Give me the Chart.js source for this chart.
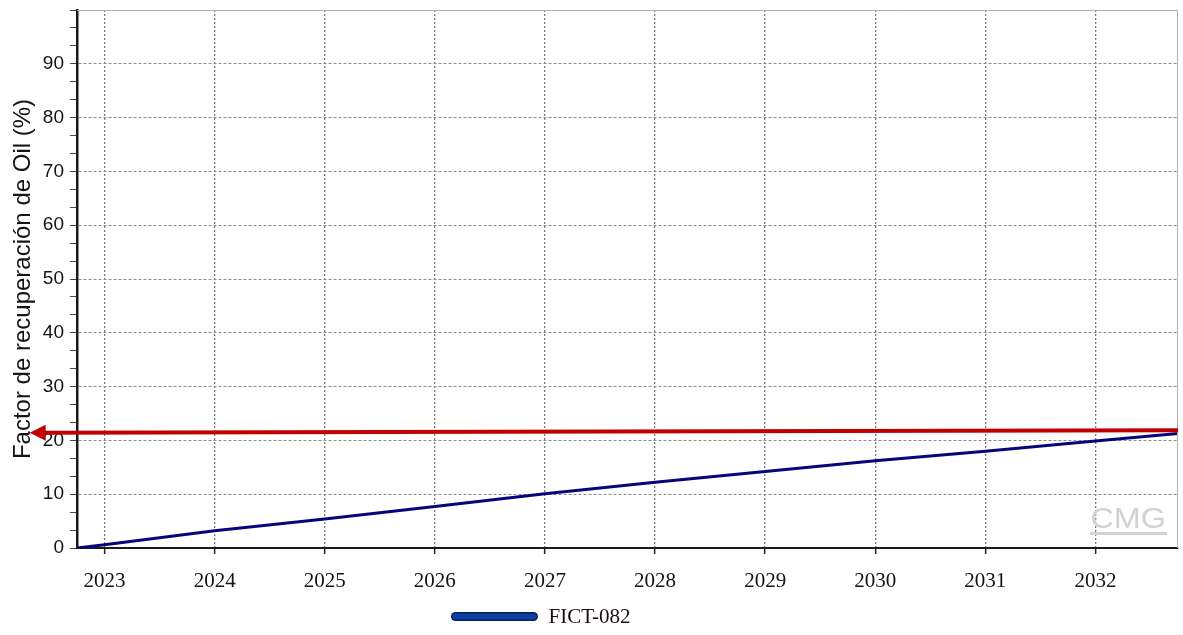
<!DOCTYPE html>
<html>
<head>
<meta charset="utf-8">
<script src="https://cdn.jsdelivr.net/npm/chart.js@4"></script>
<style>
  html, body { margin: 0; padding: 0; background: #fff; }
  #wrap { width: 1183px; height: 635px; }
</style>
</head>
<body>
<div id="wrap"><canvas id="c" width="1183" height="635"></canvas></div>
<script>
// Time axis in decimal years, recovery factor in percent
const years     = [2022.75, 2023, 2024, 2025, 2026, 2027, 2028, 2029, 2030, 2031, 2032, 2032.75];
const recovery  = [0, 0.6, 3.2, 5.4, 7.7, 10.1, 12.2, 14.2, 16.2, 18.0, 19.9, 21.3];
const yearTicks = [2023, 2024, 2025, 2026, 2027, 2028, 2029, 2030, 2031, 2032];
const xRange    = [2022.75, 2032.75];
const yRange    = [0, 100];
const seriesName = 'FICT-082';
const yTitle = 'Factor de recuperación de Oil (%)';
// Reference arrow pointing at the final recovery factor: [year, %]
const arrowFrom = [2032.75, 21.9];
const arrowTo   = [2022.32, 21.4];

const gridGray = '#8c8c8c';

const extras = {
  id: 'extras',
  afterDatasetsDraw(chart) {
    const { ctx, chartArea: a, scales: { x, y } } = chart;
    ctx.save();
    // frame top/right
    ctx.strokeStyle = '#b0b0b0';
    ctx.lineWidth = 1;
    ctx.beginPath();
    ctx.moveTo(a.left, a.top + 0.5);
    ctx.lineTo(a.right - 0.5, a.top + 0.5);
    ctx.lineTo(a.right - 0.5, a.bottom);
    ctx.stroke();

    // watermark
    ctx.fillStyle = '#d2d2d2';
    ctx.font = '30px "Liberation Sans", Arial, sans-serif';
    ctx.textAlign = 'right';
    ctx.textBaseline = 'alphabetic';
    ctx.save();
    ctx.translate(a.right - 12, a.bottom - 20);
    ctx.scale(1.08, 1);
    ctx.fillText('CMG', 0, 0);
    ctx.restore();
    ctx.fillRect(a.right - 88, a.bottom - 16, 77, 3);

    // red arrow
    const x1 = x.getPixelForValue(arrowFrom[0]), y1 = y.getPixelForValue(arrowFrom[1]);
    const x2 = x.getPixelForValue(arrowTo[0]),   y2 = y.getPixelForValue(arrowTo[1]);
    ctx.strokeStyle = '#c00000';
    ctx.fillStyle = '#c00000';
    ctx.lineWidth = 4;
    ctx.beginPath();
    ctx.moveTo(x1, y1);
    ctx.lineTo(x2 + 12, y2);
    ctx.stroke();
    ctx.beginPath();
    ctx.moveTo(x2, y2);
    ctx.lineTo(x2 + 16, y2 - 8);
    ctx.lineTo(x2 + 16, y2 + 8);
    ctx.closePath();
    ctx.fill();
    ctx.restore();
  },
  afterDraw(chart) {
    // legend: single series swatch + label below the axis
    const { ctx } = chart;
    const ds = chart.data.datasets[0];
    ctx.save();
    ctx.font = '21px "Liberation Serif", "Times New Roman", serif';
    const tw = ctx.measureText(ds.label).width;
    const sw = 86, gap = 11;
    const total = sw + gap + tw;
    const cx = 541;
    const sx = cx - total / 2;
    const cy = 616.5;
    ctx.lineCap = 'round';
    ctx.strokeStyle = '#0a1f5c';
    ctx.lineWidth = 9;
    ctx.beginPath(); ctx.moveTo(sx + 4, cy); ctx.lineTo(sx + sw - 4, cy); ctx.stroke();
    ctx.strokeStyle = '#0b40a0';
    ctx.lineWidth = 6;
    ctx.beginPath(); ctx.moveTo(sx + 4, cy); ctx.lineTo(sx + sw - 4, cy); ctx.stroke();
    ctx.fillStyle = '#1a1010';
    ctx.textAlign = 'left';
    ctx.textBaseline = 'middle';
    ctx.fillText(ds.label, sx + sw + gap, cy + 1);
    ctx.restore();
  }
};

new Chart(document.getElementById('c'), {
  type: 'line',
  data: {
    datasets: [{
      label: seriesName,
      data: years.map((t, i) => ({ x: t, y: recovery[i] })),
      borderColor: '#06067a',
      borderWidth: 3,
      pointRadius: 0,
      tension: 0,
      fill: false
    }]
  },
  options: {
    responsive: false,
    animation: false,
    devicePixelRatio: 1,
    layout: { padding: { top: 10, right: 5, left: 0, bottom: 0 } },
    plugins: { legend: { display: false }, tooltip: { enabled: false } },
    scales: {
      x: {
        type: 'linear',
        min: xRange[0],
        max: xRange[1],
        afterBuildTicks: s => { s.ticks = yearTicks.map(v => ({ value: v })); },
        afterFit: s => { s.height = 87; },
        ticks: {
          autoSkip: false,
          maxRotation: 0,
          padding: 15,
          color: '#141414',
          font: { family: '"Liberation Serif", "Times New Roman", serif', size: 21 },
          callback: v => String(v)
        },
        grid: { color: '#7a7a7a', lineWidth: 1.3, tickLength: 6, tickColor: '#222', tickWidth: 1.5 },
        border: { display: true, color: '#1a1a1a', width: 2, dash: [2, 2] }
      },
      y: {
        min: yRange[0],
        max: yRange[1],
        afterBuildTicks: s => {
          const t = [];
          for (let i = 0; i <= 30; i++) t.push({ value: i * 10 / 3 });
          s.ticks = t;
        },
        afterFit: s => { s.width = 77; s.paddingTop = 0; s.paddingBottom = 0; },
        ticks: {
          autoSkip: false,
          padding: 6,
          color: '#141414',
          font: { family: '"Liberation Sans", Arial, sans-serif', size: 19 },
          callback: (v, i) => (i % 3 === 0 && i < 30) ? String(Math.round(v)) : ''
        },
        grid: {
          color: c => (c.index % 3 === 0 && c.index > 0 && c.index < 30) ? gridGray : 'rgba(0,0,0,0)',
          lineWidth: 1,
          tickLength: 7,
          tickColor: '#444',
          tickWidth: 1
        },
        border: { display: true, color: '#1a1a1a', width: 2.5, dash: [3, 2] },
        title: {
          display: true,
          text: yTitle,
          color: '#141414',
          font: { family: '"Liberation Sans", Arial, sans-serif', size: 24 },
          padding: { top: 9, bottom: 0 }
        }
      }
    }
  },
  plugins: [extras]
});
</script>
</body>
</html>
